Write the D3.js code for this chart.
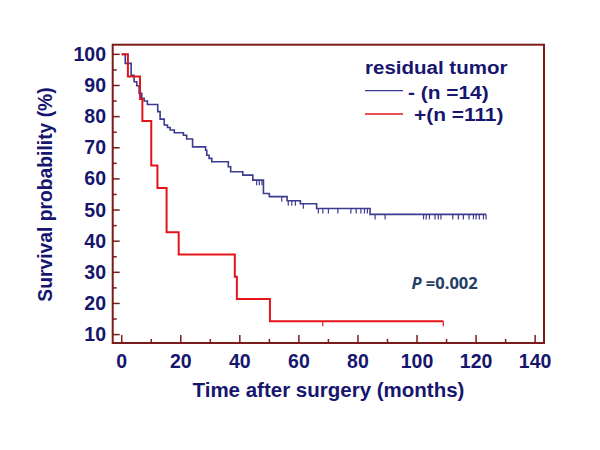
<!DOCTYPE html>
<html>
<head>
<meta charset="utf-8">
<script src="https://cdn.jsdelivr.net/npm/d3@7"></script>
<style>
  body { margin: 0; background: #fff; }
  svg { display: block; }
  text { font-family: "Liberation Sans", Arial, sans-serif; font-weight: bold; }
</style>
</head>
<body>
<svg id="chart" width="600" height="450"></svg>
<script>
// survival steps: [months, survival %] after each event
var blueSteps = [[0,100],[1.2,97.1],[3.2,93.3],[4.2,91.2],[5.1,89.9],[5.9,87.5],[6.8,85.9],
  [7.6,85.0],[8.7,83.9],[12.2,81.6],[13.0,79.2],[14.4,77.3],[15.5,76.5],[16.4,75.7],[17.8,74.8],
  [20.9,74.0],[22.0,72.8],[24.0,70.3],[28.4,69.2],[28.8,67.6],[29.6,66.6],[30.5,65.5],[36.1,63.9],
  [36.9,62.3],[41.0,61.2],[44.4,59.6],[48.0,55.3],[50.0,54.3],[56.0,53.0],[60.5,52.0],[66.0,50.5],
  [84.1,48.6]];
var blueEnd = 123.4;
var blueCensored = [45.7,46.6,47.5,54.2,56.4,57.6,58.8,61.5,66.6,68.1,70.0,73.2,77.6,79.4,81.0,82.2,83.2,
  85.8,89.2,102.2,103.1,104.2,106.1,107.2,108.1,112.1,114.0,115.7,117.6,119.1,120.0,121.1,122.5,123.4];

var redSteps = [[0,100],[2.1,92.9],[6.2,85.7],[7.0,78.6],[10.0,64.3],[12.1,57.1],[15.2,42.9],
  [19.3,35.7],[38.3,28.6],[39.0,21.4],[50.2,14.3]];
var redEnd = 108.9;
var redCensored = [68.1, 108.9];

var xTicks = [0,20,40,60,80,100,120,140];
var xMinor = [10,30,50,70,90,110,130];
var yTicks = [10,20,30,40,50,60,70,80,90,100];
var yMinor = [15,25,35,45,55,65,75,85,95];

var legendTitle = "residual tumor";
var legendLabels = ["- (n =14)", "+(n =111)"];
var pValue = "=0.002";

var blue = "#3b3b8f", red = "#e3151b", frame = "#7a1c1c", ink = "#16166e";

var svg = d3.select("#chart");
var pLeft = 112.7, pRight = 544, pTop = 44.7, pBottom = 343;

var x = d3.scaleLinear().domain([-3.05, 143]).range([pLeft, pRight]);
var y = d3.scaleLinear().domain([7.3, 103.1]).range([pBottom, pTop]);

// frame
svg.append("rect").attr("x", pLeft).attr("y", pTop)
  .attr("width", pRight - pLeft).attr("height", pBottom - pTop)
  .attr("fill", "none").attr("stroke", frame).attr("stroke-width", 2);

// x ticks (inward)
svg.selectAll(".xt").data(xTicks).enter().append("line")
  .attr("x1", d => x(d)).attr("x2", d => x(d))
  .attr("y1", pBottom).attr("y2", pBottom - 8)
  .attr("stroke", frame).attr("stroke-width", 1.5);
svg.selectAll(".xm").data(xMinor).enter().append("line")
  .attr("x1", d => x(d)).attr("x2", d => x(d))
  .attr("y1", pBottom).attr("y2", pBottom - 4)
  .attr("stroke", frame).attr("stroke-width", 1.5);
svg.selectAll(".xl").data(xTicks).enter().append("text")
  .attr("x", d => x(d)).attr("y", 368)
  .attr("text-anchor", "middle").attr("fill", ink)
  .attr("font-size", 19.5).text(d => d);

// y ticks (inward)
svg.selectAll(".yt").data(yTicks).enter().append("line")
  .attr("x1", pLeft).attr("x2", pLeft + 7)
  .attr("y1", d => y(d)).attr("y2", d => y(d))
  .attr("stroke", frame).attr("stroke-width", 1.5);
svg.selectAll(".ym").data(yMinor).enter().append("line")
  .attr("x1", pLeft).attr("x2", pLeft + 4)
  .attr("y1", d => y(d)).attr("y2", d => y(d))
  .attr("stroke", frame).attr("stroke-width", 1.5);
svg.selectAll(".yl").data(yTicks).enter().append("text")
  .attr("x", 106).attr("y", d => y(d) + 6.5)
  .attr("text-anchor", "end").attr("fill", ink)
  .attr("font-size", 19.5).text(d => d);

// axis titles
svg.append("text").attr("x", 328.5).attr("y", 397)
  .attr("text-anchor", "middle").attr("fill", ink).attr("font-size", 20.5)
  .text("Time after surgery (months)");
svg.append("text").attr("transform", "translate(52,194.5) rotate(-90)")
  .attr("text-anchor", "middle").attr("fill", ink).attr("font-size", 19.3)
  .text("Survival probability (%)");

// survival curves
var stepLine = d3.line().x(d => x(d[0])).y(d => y(d[1])).curve(d3.curveStepAfter);

function levelAt(steps, t) {
  var v = steps[0][1];
  steps.forEach(function(s) { if (s[0] <= t) v = s[1]; });
  return v;
}

function drawCurve(steps, end, censored, color, width) {
  var pts = steps.concat([[end, steps[steps.length - 1][1]]]);
  svg.append("path").attr("d", stepLine(pts))
    .attr("fill", "none").attr("stroke", color).attr("stroke-width", width);
  svg.selectAll(null).data(censored).enter().append("line")
    .attr("x1", d => x(d)).attr("x2", d => x(d))
    .attr("y1", d => y(levelAt(steps, d))).attr("y2", d => y(levelAt(steps, d)) + 5)
    .attr("stroke", color).attr("stroke-width", 1.2);
}

drawCurve(blueSteps, blueEnd, blueCensored, blue, 1.6);
drawCurve(redSteps, redEnd, redCensored, red, 2);

// legend (text is a bit wider than plain Arial in the original)
svg.append("text").attr("transform", "translate(365,73.5) scale(1.08,1)").attr("fill", ink)
  .attr("font-size", 19).text(legendTitle);
[[blue, 90.7, 99.3, 408], [red, 114, 120.5, 414]].forEach(function(l, i) {
  svg.append("line").attr("x1", 365).attr("x2", 403).attr("y1", l[1]).attr("y2", l[1])
    .attr("stroke", l[0]).attr("stroke-width", 1.3);
  svg.append("text").attr("transform", "translate(" + l[3] + "," + l[2] + ") scale(1.1,1)")
    .attr("fill", ink).attr("font-size", 19).text(legendLabels[i]);
});

// p value
var p = svg.append("text").attr("x", 411.5).attr("y", 288.5).attr("fill", "#243e64")
  .attr("font-size", 16.5).style("font-family", "'Open Sans', 'Noto Sans', sans-serif");
p.append("tspan").attr("font-style", "italic").text("P ");
p.append("tspan").text(pValue);
</script>
</body>
</html>
